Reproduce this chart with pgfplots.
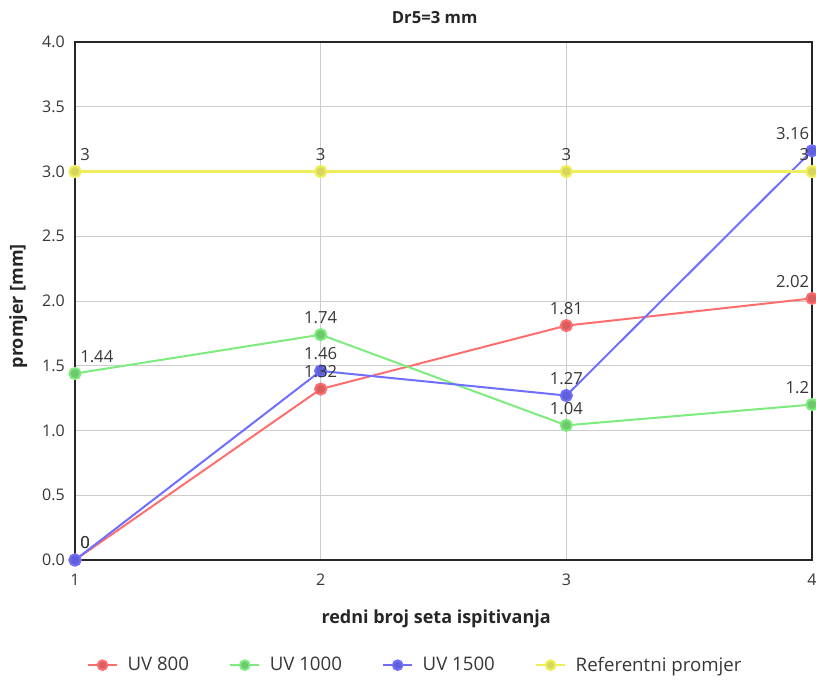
\documentclass[border=0pt]{standalone}
\usepackage{fontspec}
\setmainfont{Open Sans}
\usepackage{pgfplots}
\usepackage{pgfplotstable}
\pgfplotsset{compat=1.18}

\definecolor{lred}{RGB}{255,110,110}
\definecolor{lgreen}{RGB}{125,235,125}
\definecolor{lblue}{RGB}{110,110,255}
\definecolor{lyellow}{RGB}{238,238,90}
\definecolor{mred}{RGB}{215,95,95}
\definecolor{mgreen}{RGB}{110,200,110}
\definecolor{mblue}{RGB}{95,95,215}
\definecolor{myellow}{RGB}{215,215,95}
\definecolor{txt}{RGB}{55,55,55}

\pgfplotstableread{
x y lab
1 0 0
2 1.32 1.32
3 1.81 1.81
4 2.02 2.02
}\uvA
\pgfplotstableread{
x y lab
1 1.44 1.44
2 1.74 1.74
3 1.04 1.04
4 1.2 1.2
}\uvB
\pgfplotstableread{
x y lab
1 0 0
2 1.46 1.46
3 1.27 1.27
4 3.16 3.16
}\uvC
\pgfplotstableread{
x y lab
1 3 3
2 3 3
3 3 3
4 3 3
}\refp

\pgfplotsset{
  ser/.style={line width=1.5pt, mark=*},
  lbl/.style={
    forget plot, only marks, mark=none,
    point meta=explicit symbolic,
    nodes near coords,
    every node near coord/.append style={font=\fontsize{12.5}{14}\selectfont, text=txt, inner sep=1.5pt, yshift=6.5pt},
  },
}
% labels of one series: left end, middle, right end
\newcommand\labels[1]{%
  \addplot[lbl, restrict x to domain=0.9:1.1, nodes near coords style={anchor=south west, xshift=2.25pt}] table[x=x, y=y, meta=lab] {#1};
  \addplot[lbl, restrict x to domain=1.9:3.1, nodes near coords style={anchor=south}] table[x=x, y=y, meta=lab] {#1};
  \addplot[lbl, restrict x to domain=3.9:4.1, nodes near coords style={anchor=south east, xshift=-0.5pt}] table[x=x, y=y, meta=lab] {#1};
}

\begin{document}
\begin{tikzpicture}
\path[use as bounding box] (-56.25pt,-89.25pt) rectangle (555.75pt,420pt);
\begin{axis}[
  at={(0,0)}, anchor=south west,
  scale only axis, width=552.75pt, height=388.5pt,
  xmin=1, xmax=4, ymin=0, ymax=4,
  xtick={1,2,3,4},
  ytick={0,0.5,1,1.5,2,2.5,3,3.5,4},
  yticklabel style={/pgf/number format/fixed,/pgf/number format/fixed zerofill,/pgf/number format/precision=1},
  /pgf/number format/assume math mode=true,
  major tick length=0pt,
  tick label style={font=\fontsize{12}{14}\selectfont, text=txt},
  yticklabel style={inner sep=0pt, xshift=-7.5pt},
  xticklabel style={inner sep=0pt, yshift=-10.5pt},
  grid=major,
  major grid style={draw=black!20, line width=0.75pt},
  axis line style={draw=black!85, line width=1pt},
  clip=false,
  title={Dr5=3 mm},
  every axis title/.style={at={(axis description cs:0.488,1)}, anchor=center, yshift=18pt, font=\bfseries\fontsize{12.5}{14}\selectfont, text=black!85},
  xlabel={redni broj seta ispitivanja},
  ylabel={promjer [mm]},
  every axis x label/.style={at={(axis description cs:0.49,0)}, anchor=center, yshift=-44pt, font=\bfseries\fontsize{13.5}{15}\selectfont, text=black!85},
  every axis y label/.style={at={(axis description cs:-0.077,0.49)}, rotate=90, anchor=center, font=\bfseries\fontsize{13.5}{15}\selectfont, text=black!85},
  legend columns=4,
  legend style={at={(axis description cs:0.462,-0.203)}, anchor=center, draw=none, fill=none,
    font=\fontsize{14}{16}\selectfont, text=txt,
    /tikz/every odd column/.append style={column sep=5pt},
    /tikz/every even column/.append style={column sep=28pt}},
  legend image code/.code={\draw[mark repeat=2,mark phase=2,#1,mark size=3.6pt] plot coordinates {(0pt,0pt) (11pt,0pt) (22pt,0pt)};},
  every mark/.append style={draw=black!60, line width=0.5pt},
  mark size=4.2pt,
]
\addplot[lred, ser, mark options={fill=mred}] table[x=x, y=y] {\uvA};
\addlegendentry{UV 800}
\addplot[lgreen, ser, mark options={fill=mgreen}] table[x=x, y=y] {\uvB};
\addlegendentry{UV 1000}
\addplot[lblue, ser, mark options={fill=mblue}] table[x=x, y=y] {\uvC};
\addlegendentry{UV 1500}
\addplot[lyellow, line width=1.6pt, mark=*, mark options={fill=myellow}] table[x=x, y=y] {\refp};
\addlegendentry{Referentni promjer}
\labels{\uvA}
\labels{\uvB}
\labels{\uvC}
\labels{\refp}
\end{axis}
\end{tikzpicture}
\end{document}
